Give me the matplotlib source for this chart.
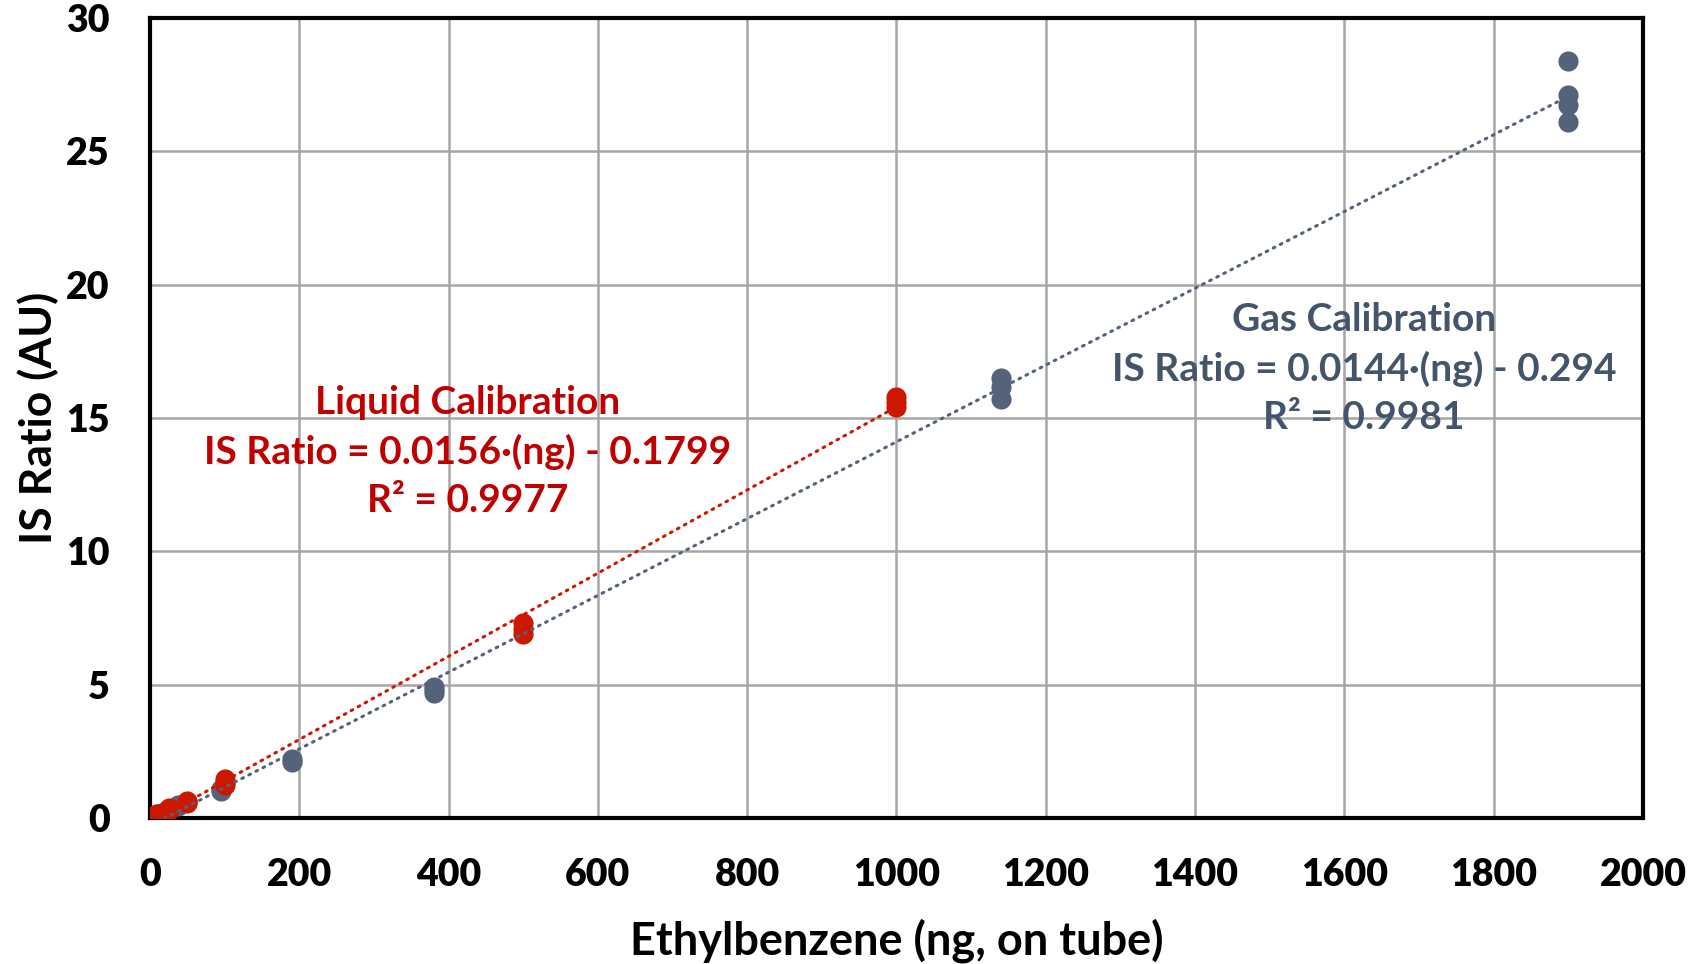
import matplotlib
matplotlib.use("Agg")
import matplotlib.pyplot as plt
import numpy as np

plt.rcParams['font.family'] = ['Lato', 'DejaVu Sans']
plt.rcParams['font.weight'] = 'bold'
plt.rcParams['axes.labelweight'] = 'bold'

# Liquid standards (ng on tube) and measured IS ratios
liquid_ng = [5, 5, 5, 10, 10, 10, 25, 25, 25, 50, 50, 50,
             100, 100, 100, 500, 500, 500, 1000, 1000, 1000]
liquid_ratio = [0.05, 0.06, 0.07, 0.12, 0.14, 0.15, 0.30, 0.33, 0.36,
                0.55, 0.60, 0.65, 1.25, 1.35, 1.45, 6.90, 7.10, 7.30,
                15.40, 15.60, 15.80]

# Gas standards
gas_ng = [9.5, 9.5, 19, 19, 38, 38, 95, 95, 190, 190, 380, 380, 380,
          1140, 1140, 1140, 1900, 1900, 1900, 1900]
gas_ratio = [0.08, 0.10, 0.20, 0.24, 0.45, 0.50, 1.00, 1.10, 2.10, 2.20,
             4.70, 4.80, 4.90, 15.70, 16.15, 16.50, 26.10, 26.75, 27.10, 28.40]

# Linear fits: slope, intercept, R^2
liquid_fit = (0.0156, -0.1799, 0.9977)
gas_fit = (0.0144, -0.294, 0.9981)

x_ticks = list(range(0, 2001, 200))
y_ticks = list(range(0, 31, 5))

gas_col = '#54637A'
gas_txt = '#44546A'
liq_col = '#CC1800'
liq_txt = '#C00000'

fig = plt.figure(figsize=(17, 9.64), dpi=100)
ax = fig.add_axes([0.0882, 0.1515, 0.8783, 0.8298])

ax.scatter(gas_ng, gas_ratio, s=210, color=gas_col, zorder=3, linewidths=0)
ax.scatter(liquid_ng, liquid_ratio, s=210, color=liq_col, zorder=4, linewidths=0)

xg = np.array([0, max(gas_ng)])
ax.plot(xg, gas_fit[0] * xg + gas_fit[1], color=gas_col, lw=2.2,
        linestyle=(0, (0.6, 2.0)), dash_capstyle='round', zorder=5)
xl = np.array([0, max(liquid_ng)])
ax.plot(xl, liquid_fit[0] * xl + liquid_fit[1], color=liq_col, lw=2.2,
        linestyle=(0, (0.6, 2.0)), dash_capstyle='round', zorder=5)

ax.set_xlim(0, 2000)
ax.set_ylim(0, 30)
ax.set_xticks(x_ticks)
ax.set_xticklabels([str(t) for t in x_ticks], fontweight='heavy')
ax.set_yticks(y_ticks)
ax.set_yticklabels([str(t) for t in y_ticks], fontweight='heavy')
ax.grid(True, color='#A6A6A6', lw=1.8)
ax.set_axisbelow(True)
for s in ax.spines.values():
    s.set_linewidth(3)
    s.set_color('black')
ax.tick_params(length=0, labelsize=27)
ax.tick_params(axis='x', pad=29)
ax.tick_params(axis='y', pad=29)

ax.set_xlabel('Ethylbenzene (ng, on tube)', fontsize=32.5)
ax.set_ylabel('IS Ratio (AU)', fontsize=32)
ax.xaxis.label.set_va('center')
ax.xaxis.set_label_coords(0.5, -0.153)
ax.yaxis.label.set_va('center')
ax.yaxis.set_label_coords(-0.075, 0.5)

ax.text(426, 13.75,
        'Liquid Calibration\nIS Ratio = %.4f\u00b7(ng) - %.4f\nR\u00b2 = %.4f'
        % (liquid_fit[0], -liquid_fit[1], liquid_fit[2]),
        color=liq_txt, fontsize=28, ha='center', va='center',
        linespacing=1.45)
ax.text(1626, 16.85,
        'Gas Calibration\nIS Ratio = %.4f\u00b7(ng) - %.3f\nR\u00b2 = %.4f'
        % (gas_fit[0], -gas_fit[1], gas_fit[2]),
        color=gas_txt, fontsize=28, ha='center', va='center',
        linespacing=1.45)

fig.savefig('out.png', dpi=100)
